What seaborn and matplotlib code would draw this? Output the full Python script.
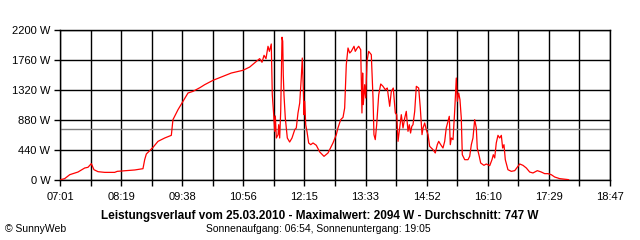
import matplotlib
matplotlib.use("Agg")
import matplotlib.pyplot as plt
import seaborn as sns
import pandas as pd

# time of day in minutes after midnight, power in W
minutes = [421.9, 427.0, 433.5, 444.1, 452.7, 456.9, 461.2, 464.6, 469.8, 478.4,
           491.2, 494.5, 506.1, 510.9, 516.9, 527.5, 529.7, 531.8, 536.1, 540.4,
           546.8, 555.4, 563.9, 566.0, 572.5, 578.9, 585.3, 591.7, 600.7, 606.7,
           617.4, 628.0, 640.9, 655.9, 664.5, 673.0, 677.3, 680.3, 682.9, 685.4,
           688.0, 689.8, 692.2, 693.5, 695.3, 696.6, 697.4, 698.7, 700.9, 701.7,
           703.0, 704.3, 706.0, 706.9, 707.6, 708.5, 710.2, 712.8, 715.8, 718.8,
           722.3, 724.3, 726.5, 728.7, 730.7, 732.0, 733.3, 734.2, 735.1, 736.4,
           738.0, 740.2, 742.8, 745.8, 750.0, 754.4, 759.9, 765.0, 771.4, 775.7,
           777.8, 781.3, 784.3, 786.4, 788.5, 790.7, 792.9, 794.9, 798.4, 800.0,
           802.6, 804.4, 807.0, 808.6, 809.5, 810.3, 812.1, 813.4, 815.1, 817.2,
           820.6, 822.8, 824.0, 825.7, 827.5, 830.1, 832.7, 835.6, 838.6, 841.1,
           844.2, 846.3, 848.8, 851.4, 853.2, 854.9, 856.5, 859.1, 861.3, 863.5,
           865.5, 867.7, 869.4, 871.0, 872.6, 874.1, 876.3, 878.4, 881.4, 883.5,
           885.7, 887.0, 889.1, 891.2, 893.4, 895.5, 899.8, 902.7, 905.3, 907.1,
           909.7, 912.6, 914.8, 916.8, 919.0, 920.7, 922.0, 923.3, 925.5, 927.6,
           929.7, 931.0, 932.8, 934.4, 936.1, 937.4, 940.5, 944.7, 946.9, 949.0,
           951.1, 953.3, 955.4, 956.6, 959.2, 961.0, 965.2, 968.2, 972.6, 975.5,
           977.2, 979.0, 981.0, 983.2, 985.4, 987.5, 989.2, 990.9, 992.6, 996.0,
           1000.3, 1004.7, 1011.1, 1015.3, 1019.6, 1023.9, 1028.1, 1033.7, 1038.8, 1043.2,
           1047.4, 1051.6, 1056.0, 1062.4, 1074.0]
watts = [5, 20, 78, 117, 176, 186, 240, 151, 122, 112,
         112, 127, 137, 140, 147, 166, 298, 381, 430, 479,
         567, 616, 655, 885, 1032, 1154, 1276, 1300, 1355, 1398,
         1462, 1511, 1569, 1609, 1657, 1740, 1780, 1726, 1829, 1780,
         1961, 1887, 1995, 1251, 958, 714, 939, 616, 665, 811,
         616, 1007, 2094, 2034, 1545, 1251, 909, 616, 557, 616,
         738, 763, 983, 1129, 1496, 1789, 1349, 958, 1154, 811,
         714, 543, 518, 543, 509, 411, 347, 396, 543, 665,
         763, 885, 919, 1056, 1691, 1936, 1863, 1887, 1961, 1887,
         1936, 1961, 1911, 983, 1569, 1105, 1398, 1203, 1740, 1887,
         1838, 1203, 665, 592, 811, 1251, 1408, 1374, 1324, 1349,
         1081, 1300, 1349, 983, 958, 567, 714, 958, 763, 909,
         1007, 714, 811, 689, 787, 811, 1007, 1374, 1349, 1056,
         665, 763, 836, 738, 665, 494, 445, 396, 518, 567,
         518, 469, 567, 763, 861, 934, 518, 616, 592, 1007,
         1496, 1154, 1276, 1178, 909, 371, 298, 298, 347, 518,
         616, 885, 763, 469, 347, 249, 215, 235, 210, 298,
         371, 323, 543, 655, 616, 655, 469, 518, 298, 151,
         127, 137, 235, 215, 176, 117, 103, 137, 117, 93,
         93, 78, 44, 20, 5]

x_tick_labels = ["07:01", "08:19", "09:38", "10:56", "12:15",
                 "13:33", "14:52", "16:10", "17:29", "18:47"]
y_ticks = [0, 440, 880, 1320, 1760, 2200]
average_w = 747
title = "Leistungsverlauf vom 25.03.2010 - Maximalwert: 2094 W - Durchschnitt: 747 W"
subtitle = "Sonnenaufgang: 06:54, Sonnenuntergang: 19:05"
credit = "\u00a9 SunnyWeb"

sns.set_theme(style="white")
plt.rcParams['font.family'] = ['Liberation Sans', 'DejaVu Sans']

fig = plt.figure(figsize=(6.4, 2.4), dpi=100)
fig.patch.set_facecolor("white")
ax = fig.add_axes([60 / 640, 60 / 240, 550 / 640, 150 / 240])
ax.set_facecolor("white")

df = pd.DataFrame({"t": minutes, "w": watts})
sns.lineplot(data=df, x="t", y="w", estimator=None, sort=False,
             color="#ff0000", linewidth=0.9, ax=ax, zorder=3)
ax.axhline(average_w, color="#808080", linewidth=1.0, zorder=2)


def to_min(s):
    h, m = s.split(":")
    return int(h) * 60 + int(m)


start = to_min(x_tick_labels[0])
end = to_min(x_tick_labels[-1])
n = len(x_tick_labels) - 1
major = [start + (end - start) * i / n for i in range(n + 1)]
minor = [start + (end - start) * (i + 0.5) / n for i in range(n)]

ax.set_xlim(start, end)
ax.set_ylim(y_ticks[0], y_ticks[-1])
ax.set_xticks(major)
ax.set_xticklabels(x_tick_labels)
ax.set_xticks(minor, minor=True)
ax.set_yticks(y_ticks)
ax.set_yticklabels([f"{v} W" for v in y_ticks])
ax.set_xlabel("")
ax.set_ylabel("")
ax.set_axisbelow(True)
ax.grid(which="both", color="black", linewidth=1.0)
ax.tick_params(which="both", direction="out", length=4, width=1.0,
               color="black", labelsize=8, labelcolor="black")
ax.tick_params(axis="x", which="both", bottom=True, pad=5)
ax.tick_params(axis="y", left=True, pad=3)
for sp in ax.spines.values():
    sp.set_color("black")
    sp.set_linewidth(1.0)
    sp.set_visible(True)

fig.text(0.5, 1 - 216 / 240, title, ha="center", va="center",
         fontweight="bold", fontsize=8.5, color="black")
fig.text(318 / 640, 1 - 229 / 240, subtitle, ha="center", va="center",
         fontsize=7.5, color="black")
fig.text(5 / 640, 1 - 229 / 240, credit, ha="left", va="center",
         fontsize=7.5, color="black")

fig.savefig("out.png", dpi=100, facecolor="white")
